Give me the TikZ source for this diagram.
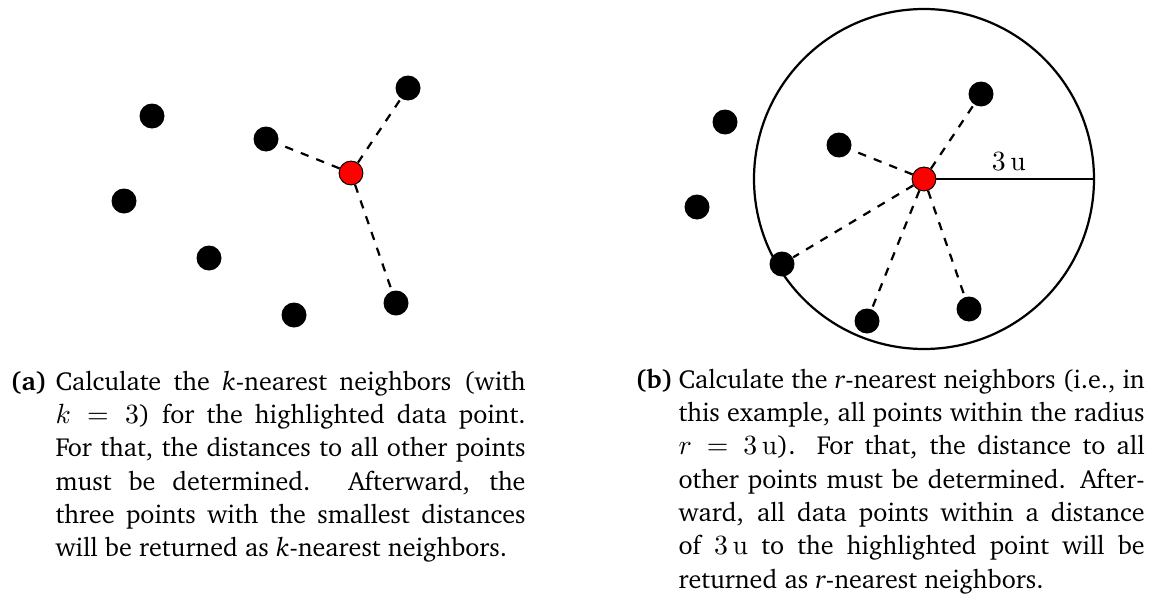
\documentclass[tikz,border=0pt]{standalone}
\usepackage[T1]{fontenc}
\usepackage{charter}
\usepackage{amsmath}
\usepackage{tikz}
\DeclareMathSizes{9.4}{10.2}{7.2}{5.1}
\tolerance=9999

\begin{document}
\begin{tikzpicture}[
    x=0.36pt, y=-0.36pt,
    dot/.style={circle, fill=black, inner sep=0pt, minimum size=9pt},
    query/.style={circle, fill=red, draw=black, line width=0.35pt, inner sep=0pt, minimum size=8.6pt},
    link/.style={dashed, thick},
    capfont/.style={font=\fontsize{9.4}{12}\selectfont},
    caplabel/.style={anchor=base west, inner sep=0pt, font=\fontsize{9.4}{12}\selectfont\bfseries},
    captext/.style={capfont, anchor=base west, inner sep=0pt, align=justify}
]
\useasboundingbox (0,0) rectangle (1153,595);

% (a) k-nearest neighbors
\node[dot] (a1) at (152,116) {};
\node[dot] (a2) at (124,201) {};
\node[dot] (a3) at (209,258) {};
\node[dot] (a4) at (294,315) {};
\node[dot] (a5) at (266,139) {};
\node[dot] (a6) at (408,88) {};
\node[dot] (a7) at (396,303) {};
\node[query] (aq) at (351,173) {};

\draw[link] (aq) -- (a5);
\draw[link] (aq) -- (a6);
\draw[link] (aq) -- (a7);

% (b) r-nearest neighbors
\coordinate (bc) at (924,179);
\coordinate (bedge) at (1094,179);
\draw[thick] (bc) circle[radius=61.2pt];

\node[dot] (b1) at (725,122) {};
\node[dot] (b2) at (697,207) {};
\node[dot] (b3) at (782,264) {};
\node[dot] (b4) at (867,321) {};
\node[dot] (b5) at (839,145) {};
\node[dot] (b6) at (981,94) {};
\node[dot] (b7) at (969,309) {};
\node[query] (bq) at (bc) {};

\draw[link] (bq) -- (b3);
\draw[link] (bq) -- (b4);
\draw[link] (bq) -- (b5);
\draw[link] (bq) -- (b6);
\draw[link] (bq) -- (b7);
\draw[thick] (bq) -- node[pos=0.46, above, inner sep=2.5pt, capfont] {$3\,\mathrm{u}$} (bedge);

% Captions
\node[caplabel] (capa-lbl) at (10,390) {(a)};
\node[captext, text width=169.2pt] (capa) at (55,390) {Calculate the \textit{k}-nearest neighbors (with\linebreak
  $k=3$) for the highlighted data point.\linebreak
  For that, the distances to all other points\linebreak
  must be determined. Afterward, the\linebreak
  three points with the smallest distances\linebreak
  will be returned as \textit{k}-nearest neighbors.};

\node[caplabel] (capb-lbl) at (635,388) {(b)};
\node[captext, text width=167.8pt] (capb) at (678,388) {Calculate the \textit{r}-nearest neighbors (i.e., in\linebreak
  this example, all points within the radius\linebreak
  $r=3\,\mathrm{u}$). For that, the distance to all\linebreak
  other points must be determined. After-\linebreak
  ward, all data points within a distance\linebreak
  of $3\,\mathrm{u}$ to the highlighted point will be\linebreak
  returned as \textit{r}-nearest neighbors.};

\end{tikzpicture}
\end{document}
